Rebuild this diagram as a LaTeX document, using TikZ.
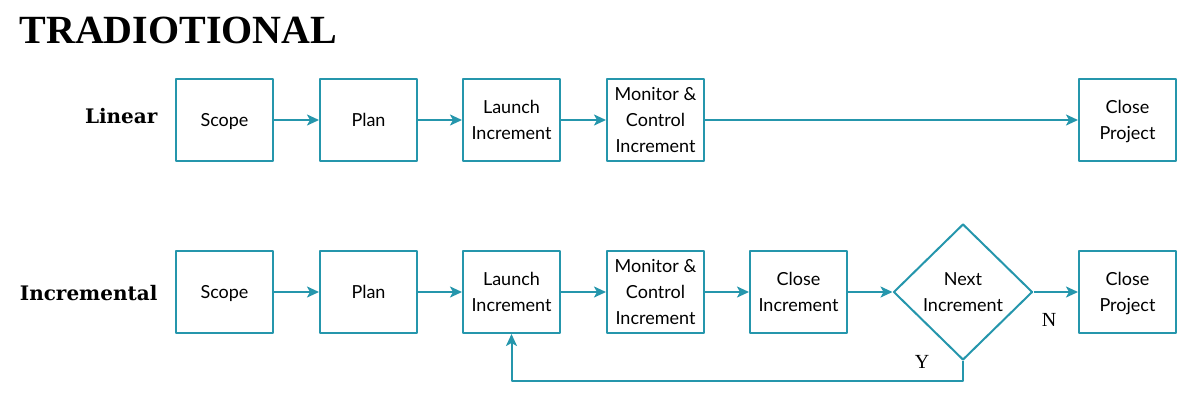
\documentclass[tikz,border=0pt]{standalone}
\usepackage{fontspec}
\setmainfont{Liberation Serif}
\newfontfamily\boxfont{Lato}
\newfontfamily\labelfont{DejaVu Serif}
\usetikzlibrary{shapes.geometric, arrows.meta}
\definecolor{teal}{HTML}{2596AC}
\begin{document}
\begin{tikzpicture}[x=1pt, y=-1pt, line cap=round, line join=round, >={Stealth[length=12pt, width=11pt, inset=3pt]}]
	\tikzset{stagebox/.style={draw=teal, line width=2pt, minimum width=97pt, minimum height=82pt, inner sep=0pt, align=center, font=\boxfont\fontsize{18}{26}\selectfont, text depth=-8pt},
		decide/.style={draw=teal, line width=2pt, diamond, minimum width=139pt, minimum height=136pt, inner sep=0pt, align=center, font=\boxfont\fontsize{18}{26}\selectfont, text depth=-8pt},
		flow/.style={draw=teal, line width=2pt, ->, line cap=butt},
		row label/.style={font=\labelfont\bfseries\fontsize{20}{24}\selectfont, anchor=east}}
	\useasboundingbox (0,0) rectangle (1200,400);
	\node[font=\bfseries\fontsize{40}{44}\selectfont, anchor=west] (title) at (16,30) {TRADIOTIONAL};
	% linear
	\node[row label] (lin) at (161,116) {Linear};
	\node[stagebox] (ls) at (224.5,120) {Scope};
	\node[stagebox] (lp) at (368.5,120) {Plan};
	\node[stagebox] (ll) at (511.5,120) {Launch\\Increment};
	\node[stagebox] (lm) at (655.5,120) {Monitor \&\\Control\\Increment};
	\node[stagebox] (lc) at (1127.5,120) {Close\\Project};
	\draw[flow] (ls) -- (lp);
	\draw[flow] (lp) -- (ll);
	\draw[flow] (ll) -- (lm);
	\draw[flow] (lm) -- (lc);
	% incremental
	\node[row label] (inc) at (161,293) {Incremental};
	\node[stagebox] (is) at (224.5,292) {Scope};
	\node[stagebox] (ip) at (368.5,292) {Plan};
	\node[stagebox] (il) at (511.5,292) {Launch\\Increment};
	\node[stagebox] (im) at (655.5,292) {Monitor \&\\Control\\Increment};
	\node[stagebox] (ic) at (798.5,292) {Close\\Increment};
	\node[decide] (nx) at (963,292) {Next\\Increment};
	\node[stagebox] (ip2) at (1127.5,292) {Close\\Project};
	\draw[flow] (is) -- (ip);
	\draw[flow] (ip) -- (il);
	\draw[flow] (il) -- (im);
	\draw[flow] (im) -- (ic);
	\draw[flow] (ic) -- (nx);
	\draw[flow] (nx) -- (ip2);
	\draw[flow] (nx.south) -- ++(0,20) -| (il.south);
	\node[font=\fontsize{20}{24}\selectfont] (yes) at (922,362) {Y};
	\node[font=\fontsize{20}{24}\selectfont] (no) at (1049,320) {N};
\end{tikzpicture}
\end{document}
